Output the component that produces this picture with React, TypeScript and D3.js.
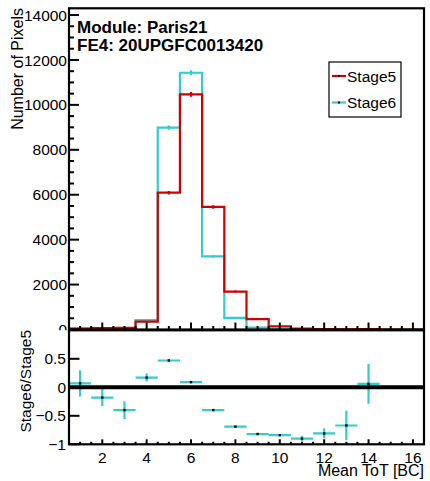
import React from 'react';
import * as d3 from 'd3';

// ---- data ----
const bins = [1, 2, 3, 4, 5, 6, 7, 8, 9, 10, 11, 12, 13, 14, 15, 16];
const stage5 = [40, 60, 70, 355, 6090, 10470, 5455, 1690, 465, 142, 45, 20, 6, 16, 0, 0];
const stage6 = [43, 49, 42, 420, 8985, 11430, 3260, 520, 84, 23, 5, 4, 2, 17, 0, 0];
const ratioBins = [1, 2, 3, 4, 5, 6, 7, 8, 9, 10, 11, 12, 13, 14];
const ratioVals = [0.07, -0.18, -0.40, 0.17, 0.47, 0.09, -0.40, -0.69, -0.82, -0.84, -0.90, -0.81, -0.67, 0.06];
const ratioErrs = [0.23, 0.15, 0.155, 0.07, 0.015, 0.01, 0.012, 0.015, 0.015, 0.02, 0.045, 0.09, 0.26, 0.35];
const topYTicks = [0, 2000, 4000, 6000, 8000, 10000, 12000, 14000];
const bottomYTicks = [-1, -0.5, 0, 0.5];
const xTickLabels = [2, 4, 6, 8, 10, 12, 14, 16];
const seriesNames = ['Stage5', 'Stage6'];
const titleLines = ['Module: Paris21', 'FE4: 20UPGFC0013420'];

const RED = '#d10000';
const CYAN = '#33cccc';
const FONT = '"Liberation Sans", Arial, Helvetica, sans-serif';

const W = 430, H = 481;
const FL = 69, FR = 424, TT = 8.3, TB = 329.5, BT = 330.3, BB = 444.3;

const x = d3.scaleLinear().domain([0.5, 16.5]).range([FL, FR]);
const yTop = d3.scaleLinear().domain([0, 14300]).range([TB, TT]);
const yBot = d3.scaleLinear().domain([-1, 1]).range([BB, BT]);

const fmt = (v: number) => (v < 0 ? '\u2212' + String(-v) : String(v));

function histPath(vals: number[]) {
  const pts: [number, number][] = bins.map((b, i) => [b - 0.5, vals[i]]);
  pts.push([bins[bins.length - 1] + 0.5, vals[vals.length - 1]]);
  const line = d3.line<[number, number]>()
    .x(d => x(d[0]))
    .y(d => yTop(d[1]))
    .curve(d3.curveStepAfter);
  return line(pts) || '';
}

export default function App() {
  const topMinorY = d3.range(0, 14301, 500).filter(v => v % 2000 !== 0);
  const xTicks = d3.range(1, 16.01, 0.5);
  const series = [
    { name: seriesNames[1], vals: stage6, color: CYAN },
    { name: seriesNames[0], vals: stage5, color: RED },
  ];
  return (
    <svg width={W} height={H} style={{ position: 'absolute', left: 0, top: 0, background: '#fff' }}
      fontFamily={FONT}>
      <defs>
        <clipPath id="topClip"><rect x={FL} y={TT} width={FR - FL} height={TB - TT} /></clipPath>
        <clipPath id="botClip"><rect x={FL} y={BT} width={FR - FL} height={BB - BT} /></clipPath>
        <clipPath id="zeroClip"><rect x={0} y={0} width={FL} height={BT} /></clipPath>
      </defs>
      <rect x={0} y={0} width={W} height={H} fill="#fff" />

      {/* ---- top panel ---- */}
      <g clipPath="url(#topClip)">
        {series.map(s => (
          <g key={s.name}>
            <path d={histPath(s.vals)} fill="none" stroke={s.color} strokeWidth={2.2} />
            {bins.map((b, i) => s.vals[i] > 0 ? (
              <line key={b} x1={x(b)} x2={x(b)}
                y1={yTop(s.vals[i] - Math.sqrt(s.vals[i]))} y2={yTop(s.vals[i] + Math.sqrt(s.vals[i]))}
                stroke={s.color} strokeWidth={2.2} />
            ) : null)}
          </g>
        ))}
      </g>
      {/* top y ticks */}
      {topYTicks.map(v => (
        <g key={v}>
          <line x1={FL} x2={FL + 10} y1={yTop(v)} y2={yTop(v)} stroke="#000" strokeWidth={2} />
          {v !== 0 ? (
            <text x={67} y={yTop(v)} dy="0.36em" textAnchor="end" fontSize={15.5}>{v}</text>
          ) : (
            <text x={67} y={yTop(v)} dy="0.36em" textAnchor="end" fontSize={15.5} clipPath="url(#zeroClip)">{v}</text>
          )}
        </g>
      ))}
      {topMinorY.map(v => (
        <line key={v} x1={FL} x2={FL + 5} y1={yTop(v)} y2={yTop(v)} stroke="#000" strokeWidth={2} />
      ))}
      {xTicks.map(v => (
        <line key={v} x1={x(v)} x2={x(v)} y1={TB} y2={TB - (v % 2 === 0 ? 7 : 3.5)} stroke="#000" strokeWidth={2} />
      ))}
      <rect x={FL} y={TT} width={FR - FL} height={TB - TT} fill="none" stroke="#000" strokeWidth={2.2} />

      {/* titles */}
      {titleLines.map((t, i) => (
        <text key={t} x={77} y={33.3 + i * 17.7} fontSize={17} fontWeight="bold">{t}</text>
      ))}
      <text transform={`translate(23,8) rotate(-90)`} textAnchor="end" fontSize={16}>Number of Pixels</text>

      {/* legend */}
      <rect x={329} y={62} width={72} height={55} fill="#fff" stroke="#000" strokeWidth={1.2} />
      {[{ name: seriesNames[0], color: RED }, { name: seriesNames[1], color: CYAN }].map((s, i) => {
        const cy = 76 + i * 26.5;
        return (
          <g key={s.name}>
            <line x1={332} x2={346} y1={cy} y2={cy} stroke={s.color} strokeWidth={2.2} />
            <rect x={338} y={cy - 1} width={2} height={2} fill="#000" />
            <text x={347} y={cy} dy="0.36em" fontSize={15.5}>{s.name}</text>
          </g>
        );
      })}

      {/* ---- bottom panel ---- */}
      <g clipPath="url(#botClip)">
        {ratioBins.map((b, i) => (
          <g key={b}>
            <line x1={x(b - 0.5)} x2={x(b + 0.5)} y1={yBot(ratioVals[i])} y2={yBot(ratioVals[i])}
              stroke={CYAN} strokeWidth={2.2} />
            <line x1={x(b)} x2={x(b)} y1={yBot(ratioVals[i] - ratioErrs[i])} y2={yBot(ratioVals[i] + ratioErrs[i])}
              stroke={CYAN} strokeWidth={2.2} />
            <rect x={x(b) - 1.2} y={yBot(ratioVals[i]) - 1.2} width={2.4} height={2.4} fill="#000" />
          </g>
        ))}
        <line x1={FL} x2={FR} y1={yBot(0)} y2={yBot(0)} stroke="#000" strokeWidth={4} />
      </g>
      {bottomYTicks.map(v => (
        <g key={v}>
          <line x1={FL} x2={FL + 10.5} y1={yBot(v)} y2={yBot(v)} stroke="#000" strokeWidth={2} />
          <text x={66} y={yBot(v)} dy="0.36em" textAnchor="end" fontSize={15.5}>{fmt(v)}</text>
        </g>
      ))}
      {xTicks.map(v => (
        <line key={v} x1={x(v)} x2={x(v)} y1={BB} y2={BB - (v % 2 === 0 ? 5 : 2.5)} stroke="#000" strokeWidth={2} />
      ))}
      {xTickLabels.map(v => (
        <text key={v} x={x(v)} y={462.5} textAnchor="middle" fontSize={15.5}>{v}</text>
      ))}
      <rect x={FL} y={BT} width={FR - FL} height={BB - BT} fill="none" stroke="#000" strokeWidth={2.2} />
      <text transform={`translate(30.5,330) rotate(-90)`} textAnchor="end" fontSize={15.5}>Stage6/Stage5</text>
      <text x={424} y={476} textAnchor="end" fontSize={16}>Mean ToT [BC]</text>
    </svg>
  );
}
